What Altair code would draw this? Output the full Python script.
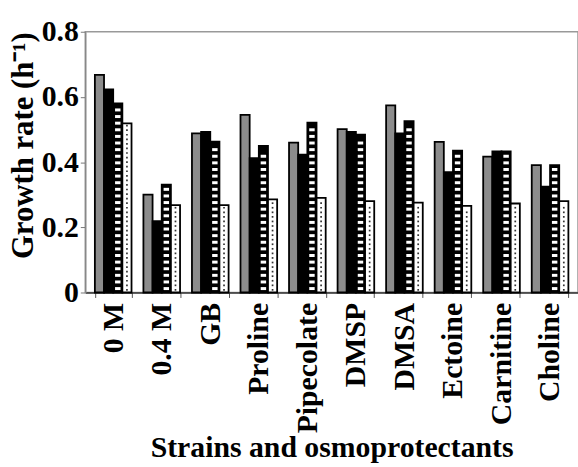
import altair as alt
import pandas as pd

categories = ["0 M", "0.4 M", "GB", "Proline", "Pipecolate", "DMSP", "DMSA", "Ectoine", "Carnitine", "Choline"]
series_names = ["S1", "S2", "S3", "S4"]
s1 = [0.668, 0.300, 0.488, 0.545, 0.460, 0.501, 0.574, 0.462, 0.417, 0.391]
s2 = [0.623, 0.219, 0.493, 0.412, 0.423, 0.493, 0.488, 0.369, 0.433, 0.325]
s3 = [0.580, 0.331, 0.463, 0.450, 0.521, 0.484, 0.526, 0.435, 0.433, 0.391]
s4 = [0.519, 0.268, 0.268, 0.286, 0.290, 0.280, 0.276, 0.266, 0.273, 0.280]
y_ticks = [0, 0.2, 0.4, 0.6, 0.8]

rows = []
for name, vals in zip(series_names, [s1, s2, s3, s4]):
    for c, v in zip(categories, vals):
        rows.append({"cat": c, "series": name, "value": v})
df = pd.DataFrame(rows)

# stripe decoration for series 3 (white bands inside black bar)
stripe_rows = []
for c, v in zip(categories, s3):
    k = 0
    while 0.012 + k * 0.0203 < v - 0.012:
        stripe_rows.append({"cat": c, "series": "S3", "y": 0.012 + k * 0.0203})
        k += 1
stripes = pd.DataFrame(stripe_rows)

# dot decoration for series 4
dot_rows = []
for c, v in zip(categories, s4):
    k = 0
    while 0.008 + k * 0.014 < v - 0.006:
        dot_rows.append({"cat": c, "series": "S4", "y": 0.008 + k * 0.014, "side": k % 2})
        k += 1
dots = pd.DataFrame(dot_rows)

FONT = "Liberation Serif"

xscale = alt.Scale(domain=categories, paddingInner=0.245, paddingOuter=0.198)
xoff = alt.Scale(domain=series_names, paddingInner=0, paddingOuter=0)
yscale = alt.Scale(domain=[0, 0.8], nice=False)

bars = alt.Chart(df).mark_bar(stroke="black", strokeWidth=1.8).encode(
    x=alt.X("cat:N", scale=xscale, sort=categories,
            axis=alt.Axis(title="Strains and osmoprotectants", labelAngle=270,
                          labelAlign="right", labelBaseline="middle",
                          labelFont=FONT, labelFontSize=30, labelFontWeight="bold",
                          labelColor="black", labelPadding=5,
                          titleFont=FONT, titleFontSize=30, titleFontWeight="bold",
                          titleColor="black", titlePadding=0,
                          tickBand="extent", tickSize=5, tickColor="#555",
                          domainColor="#333", domainWidth=1.5)),
    xOffset=alt.XOffset("series:N", scale=xoff),
    y=alt.Y("value:Q", scale=yscale,
            axis=alt.Axis(title="Growth rate (h⁻¹)", values=y_ticks, format=".1~f",
                          labelFont=FONT, labelFontSize=30, labelFontWeight="bold",
                          labelColor="black", labelPadding=2,
                          titleFont=FONT, titleFontSize=31, titleFontWeight="bold",
                          titleColor="black", titleAnchor="end", titlePadding=2,
                          tickSize=5, tickColor="#777", domainColor="#888",
                          domainWidth=1.5, grid=False)),
    fill=alt.Fill("series:N", scale=alt.Scale(domain=series_names,
                  range=["#8c8c8c", "#000000", "#000000", "#ffffff"]), legend=None),
)

stripe_layer = alt.Chart(stripes).mark_tick(
    color="white", opacity=1, thickness=3, size=5.5, orient="horizontal").encode(
    x=alt.X("cat:N", scale=xscale, sort=categories),
    xOffset=alt.XOffset("series:N", scale=xoff),
    y=alt.Y("y:Q", scale=yscale),
)

dots_a = alt.Chart(dots).transform_filter("datum.side == 0").mark_square(
    size=3, color="black", opacity=0.8, dx=-1.5).encode(
    x=alt.X("cat:N", scale=xscale, sort=categories),
    xOffset=alt.XOffset("series:N", scale=xoff),
    y=alt.Y("y:Q", scale=yscale),
)
dots_b = alt.Chart(dots).transform_filter("datum.side == 1").mark_square(
    size=3, color="black", opacity=0.8, dx=1.5).encode(
    x=alt.X("cat:N", scale=xscale, sort=categories),
    xOffset=alt.XOffset("series:N", scale=xoff),
    y=alt.Y("y:Q", scale=yscale),
)

chart = alt.layer(bars, stripe_layer, dots_a, dots_b).properties(
    width=497, height=263,
    autosize=alt.AutoSizeParams(type="none"),
    padding={"left": 86, "top": 30, "right": 0, "bottom": 174},
    background="white",
).configure_view(stroke="#999999", strokeWidth=1.5)

chart.save("out.html", embed_options={"renderer": "svg", "actions": False})
